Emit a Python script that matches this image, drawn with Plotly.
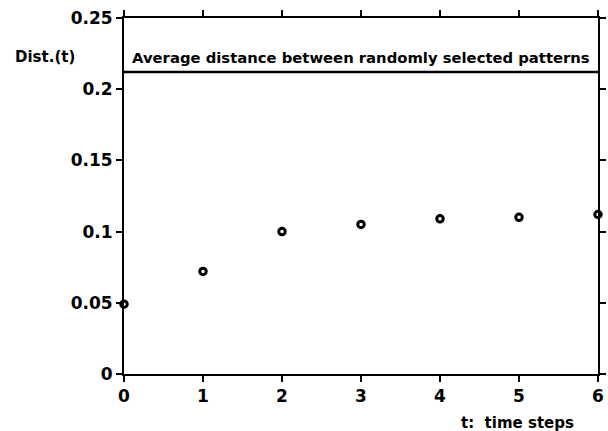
import plotly.graph_objects as go

t_steps = [0, 1, 2, 3, 4, 5, 6]
dist = [0.049, 0.072, 0.100, 0.105, 0.109, 0.110, 0.112]
y_ticks = [0, 0.05, 0.1, 0.15, 0.2, 0.25]
y_labels = ["0", "0.05", "0.1", "0.15", "0.2", "0.25"]
box_line = 0.212
box_text = "Average distance between randomly selected patterns"
label_level = 0.2225

FONT = "DejaVu Sans, sans-serif"

fig = go.Figure()
fig.add_trace(go.Scatter(
    x=t_steps, y=dist, mode="markers", cliponaxis=False,
    marker=dict(symbol="circle", size=6.5, color="white",
                line=dict(color="black", width=3)),
    showlegend=False,
))

fig.add_shape(type="line", xref="x", yref="y", x0=0, x1=6,
              y0=box_line, y1=box_line, line=dict(color="black", width=2.5))
fig.add_annotation(x=3, y=label_level, xref="x", yref="y",
                   text="<b>" + box_text + "</b>", showarrow=False,
                   font=dict(family=FONT, size=14.8, color="black"))
fig.add_annotation(x=0, y=label_level, xref="paper", yref="y",
                   text="<b>Dist.(t)</b>", showarrow=False, xanchor="right",
                   xshift=-47, font=dict(family=FONT, size=15, color="black"))
fig.add_annotation(x=1, y=0, xref="paper", yref="paper",
                   text="<b>t:  time steps</b>", showarrow=False,
                   xanchor="right", yanchor="top", xshift=-22, yshift=-38,
                   font=dict(family=FONT, size=15, color="black"))

axis_common = dict(showgrid=False, zeroline=False, showline=True,
                   linecolor="black", linewidth=2, mirror="ticks",
                   ticks="outside", ticklen=6, tickwidth=1.5, tickcolor="black",
                   automargin=False,
                   tickfont=dict(family=FONT, size=17, color="black"))

fig.update_xaxes(range=[0, 6], tickvals=t_steps,
                 ticktext=["<b>%d</b>" % v for v in t_steps], **axis_common)
fig.update_yaxes(range=[0, 0.25], tickvals=y_ticks,
                 ticktext=["<b>" + s + "</b>" for s in y_labels], **axis_common)

fig.update_layout(width=608, height=431,
                  margin=dict(l=124, r=10, t=18, b=57),
                  paper_bgcolor="white", plot_bgcolor="white")
fig.write_html("out.html")
